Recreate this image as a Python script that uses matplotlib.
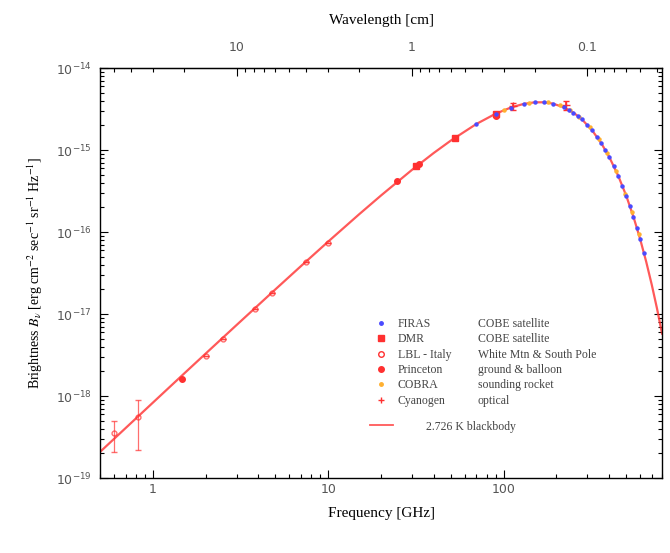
import numpy as np
import matplotlib
matplotlib.use("Agg")
import matplotlib.pyplot as plt
from matplotlib.ticker import FuncFormatter, NullFormatter
from matplotlib.lines import Line2D

plt.rcParams['mathtext.fontset'] = 'stix'
SERIF = ['Liberation Serif', 'DejaVu Serif']

# 2.726 K blackbody curve (GHz, erg cm^-2 s^-1 sr^-1 Hz^-1)
bb_freq = [0.5, 0.7, 1, 1.5, 2, 3, 5, 7, 10, 15, 20, 30, 40, 50, 70, 90, 110, 130,
           150, 170, 190, 220, 250, 280, 320, 360, 400, 450, 500, 550, 600, 650,
           700, 750, 800]
bb_val = [2.08e-19, 4.07e-19, 8.29e-19, 1.86e-18, 3.29e-18, 7.33e-18, 2.00e-17,
          3.85e-17, 7.65e-17, 1.645e-16, 2.79e-16, 5.72e-16, 9.22e-16, 1.304e-15,
          2.08e-15, 2.77e-15, 3.30e-15, 3.65e-15, 3.816e-15, 3.821e-15, 3.69e-15,
          3.33e-15, 2.86e-15, 2.36e-15, 1.73e-15, 1.216e-15, 8.24e-16, 4.86e-16,
          2.77e-16, 1.53e-16, 8.23e-17, 4.34e-17, 2.25e-17, 1.15e-17, 5.77e-18]

# FIRAS (COBE)
firas_freq = [70, 90, 110, 130, 150, 170, 190, 220, 235, 250, 265, 280, 300, 320,
              340, 360, 380, 400, 425, 450, 475, 500, 525, 550, 575, 600, 630]
firas_val = [2.08e-15, 2.77e-15, 3.30e-15, 3.65e-15, 3.82e-15, 3.82e-15, 3.69e-15,
             3.33e-15, 3.10e-15, 2.86e-15, 2.61e-15, 2.36e-15, 2.03e-15, 1.73e-15,
             1.46e-15, 1.22e-15, 1.01e-15, 8.24e-16, 6.37e-16, 4.86e-16, 3.68e-16,
             2.77e-16, 2.06e-16, 1.53e-16, 1.12e-16, 8.2e-17, 5.6e-17]

# COBRA (rocket)
cobra_freq = [100, 140, 180, 210, 240, 270, 310, 350, 390, 440, 490, 540, 590]
cobra_val = [3.08e-15, 3.78e-15, 3.80e-15, 3.50e-15, 3.05e-15, 2.55e-15, 1.90e-15,
             1.36e-15, 9.3e-16, 5.5e-16, 2.9e-16, 1.75e-16, 9.5e-17]

# DMR (COBE)
dmr_freq = [31.5, 53, 90]
dmr_val = [6.3e-16, 1.40e-15, 2.75e-15]

# Princeton
prin_freq = [1.47, 24.8, 33, 90]
prin_val = [1.62e-18, 4.15e-16, 6.8e-16, 2.62e-15]

# LBL - Italy
lbl_freq = [0.6, 0.82, 2.0, 2.5, 3.8, 4.75, 7.5, 10]
lbl_val = [3.5e-19, 5.6e-19, 3.1e-18, 5.0e-18, 1.15e-17, 1.8e-17, 4.3e-17, 7.4e-17]
lbl_err = [1.4e-19, 3.4e-19, 0, 0, 0, 0, 0, 0]

# Cyanogen
cn_freq = [113.6, 227]
cn_val = [3.4e-15, 3.55e-15]
cn_err = [0.3e-15, 0.45e-15]

names = ['FIRAS', 'DMR', 'LBL - Italy', 'Princeton', 'COBRA', 'Cyanogen']
descs = ['COBE satellite', 'COBE satellite', 'White Mtn & South Pole',
         'ground & balloon', 'sounding rocket', 'optical']

red = '#ff3030'
fig = plt.figure(figsize=(6.7, 5.53), dpi=100)
ax = fig.add_axes([0.1493, 0.1356, 0.8388, 0.7414])
ax.set_xscale('log')
ax.set_yscale('log')

ax.plot(bb_freq, bb_val, color=red, lw=1.6, alpha=0.8, zorder=2)
ax.errorbar(lbl_freq, lbl_val, yerr=lbl_err, fmt='o', ms=3.5, mfc='none',
            mec=red, ecolor=red, elinewidth=0.9, capsize=2, alpha=0.7, zorder=3)
ax.plot(prin_freq, prin_val, 'o', ms=4, color=red, zorder=3)
ax.plot(dmr_freq, dmr_val, 's', ms=4, color=red, zorder=3)
ax.errorbar(cn_freq, cn_val, yerr=cn_err, fmt='+', ms=6, color=red,
            elinewidth=1.2, capsize=2, zorder=3)
ax.plot(cobra_freq, cobra_val, 'o', ms=2.2, color='#ffb030', zorder=4)
ax.plot(firas_freq, firas_val, 'o', ms=2.2, color='#4a4aff', zorder=5)

ax.set_xlim(0.5, 800)
ax.set_ylim(1e-19, 1e-14)

ax.xaxis.set_major_formatter(FuncFormatter(lambda v, p: f'{v:g}'))
ax.tick_params(which='both', direction='in', left=True, right=True, top=False,
               bottom=True, labelsize=9, labelcolor='#555555', width=0.8)
ax.tick_params(which='major', length=6)
ax.tick_params(which='minor', length=3)
ax.tick_params(axis='y', pad=6)

sec = ax.secondary_xaxis('top', functions=(lambda f: 30.0 / f, lambda l: 30.0 / l))
sec.xaxis.set_major_formatter(FuncFormatter(lambda v, p: f'{v:g}'))
sec.xaxis.set_minor_formatter(NullFormatter())
sec.tick_params(which='both', direction='in', labelsize=9, labelcolor='#555555',
                width=0.8, pad=10)
sec.tick_params(which='major', length=6)
sec.tick_params(which='minor', length=3)
sec.set_xlabel('Wavelength [cm]', family=SERIF, fontsize=11, labelpad=12)

ax.set_xlabel('Frequency [GHz]', family=SERIF, fontsize=11, labelpad=8)
ax.set_ylabel(r'Brightness $B_\nu$ [erg cm$^{-2}$ sec$^{-1}$ sr$^{-1}$ Hz$^{-1}$]',
              family=SERIF, fontsize=10, labelpad=8)

for s in ax.spines.values():
    s.set_linewidth(1.0)

handles = [
    Line2D([], [], ls='none', marker='o', ms=2.5, color='#4a4aff'),
    Line2D([], [], ls='none', marker='s', ms=4, color=red),
    Line2D([], [], ls='none', marker='o', ms=4, mfc='none', mec=red),
    Line2D([], [], ls='none', marker='o', ms=4, color=red),
    Line2D([], [], ls='none', marker='o', ms=2.5, color='#ffb030'),
    Line2D([], [], ls='none', marker='+', ms=5, color=red),
]
leg1 = ax.legend(handles, names, loc='upper left', bbox_to_anchor=(0.49, 0.39),
                 frameon=False, prop={'family': SERIF, 'size': 8.5}, handlelength=1,
                 handletextpad=0.9, labelspacing=0.28, borderpad=0, borderaxespad=0)
for t in leg1.get_texts():
    t.set_color('#444444')
ax.add_artist(leg1)

blank = [Line2D([], [], ls='none') for _ in descs]
leg2 = ax.legend(blank, descs, loc='upper left', bbox_to_anchor=(0.672, 0.39),
                 frameon=False, prop={'family': SERIF, 'size': 8.5}, handlelength=0,
                 handletextpad=0, labelspacing=0.28, borderpad=0, borderaxespad=0)
for t in leg2.get_texts():
    t.set_color('#444444')
ax.add_artist(leg2)

leg3 = ax.legend([Line2D([], [], color=red, lw=1.3, alpha=0.8)], ['2.726 K blackbody'],
                 loc='upper left', bbox_to_anchor=(0.48, 0.14), frameon=False,
                 prop={'family': SERIF, 'size': 8.5}, handlelength=2,
                 handletextpad=2.8, borderpad=0, borderaxespad=0)
for t in leg3.get_texts():
    t.set_color('#444444')

fig.savefig('out.png', dpi=100)
